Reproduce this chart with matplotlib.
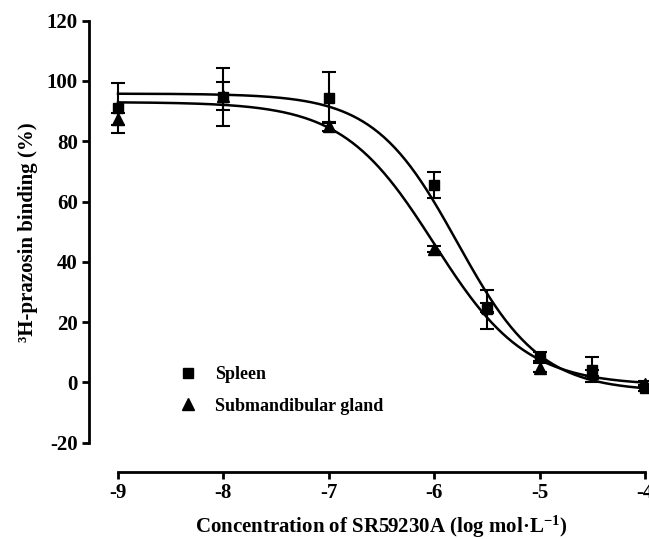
import numpy as np
import matplotlib
matplotlib.use('Agg')
import matplotlib.pyplot as plt
from matplotlib.lines import Line2D

matplotlib.rcParams['font.family'] = 'Liberation Serif'
matplotlib.rcParams['font.weight'] = 'bold'
matplotlib.rcParams['axes.unicode_minus'] = False
matplotlib.rcParams['mathtext.fontset'] = 'custom'
matplotlib.rcParams['mathtext.rm'] = 'Liberation Serif:bold'
matplotlib.rcParams['mathtext.bf'] = 'Liberation Serif:bold'
matplotlib.rcParams['mathtext.default'] = 'bf'

# log concentration (mol/L)
log_conc = [-9, -8, -7, -6, -5.5, -5, -4.5, -4]

# spleen (squares)
spleen = [91.0, 94.7, 94.4, 65.5, 24.2, 8.5, 4.2, -1.8]
spleen_err = [8.2, 9.5, 8.5, 4.3, 6.5, 1.5, 4.2, 1.0]

# submandibular gland (triangles)
subm = [87.5, 95.0, 85.0, 44.2, 25.0, 4.8, 3.0, -0.5]
subm_err = [2.0, 4.5, 1.5, 1.0, 1.5, 1.5, 1.0, 1.0]

# fitted sigmoid parameters (top, bottom, logIC50, hill)
spleen_fit = (95.8, -3.0, -5.78, 1.1)
subm_fit = (93.0, -1.0, -6.0, 1.0)


def sigmoid(x, top, bottom, logic50, hill):
    return bottom + (top - bottom) / (1 + 10 ** (hill * (x - logic50)))


fig = plt.figure(figsize=(6.49, 5.39), dpi=100, facecolor='w')
ax = fig.add_axes([118/649, 1-442.7/539, 527/649, 422/539])

xx = np.linspace(-9, -4, 300)
ax.plot(xx, sigmoid(xx, *spleen_fit), 'k', lw=1.8, clip_on=False)
ax.plot(xx, sigmoid(xx, *subm_fit), 'k', lw=1.8, clip_on=False)

ax.errorbar(log_conc, subm, yerr=subm_err, fmt='^', color='k', ms=8,
            capsize=5, elinewidth=1.5, capthick=1.5, clip_on=False)
ax.errorbar(log_conc, spleen, yerr=spleen_err, fmt='s', color='k', ms=7,
            capsize=5, elinewidth=1.5, capthick=1.5, clip_on=False)

ax.set_xlim(-9, -4)
ax.set_ylim(-20, 120)
ax.set_xticks(np.arange(-9, -3, 1))
ax.set_yticks(np.arange(-20, 121, 20))

for s in ['top', 'right']:
    ax.spines[s].set_visible(False)
ax.spines['left'].set_position(('outward', 21))
ax.spines['bottom'].set_position(('outward', 21))
ax.spines['left'].set_linewidth(2)
ax.spines['bottom'].set_linewidth(2)
ax.tick_params(width=2, length=5, labelsize=15, pad=3)

ax.set_xlabel('Concentration of SR59230A (log mol·L$^{-1}$)', fontsize=15,
              fontweight='bold', labelpad=8)
ax.set_ylabel('³H-prazosin binding (%)', fontsize=15, fontweight='bold',
              labelpad=6)

handles = [Line2D([], [], marker='s', color='k', ls='none', ms=7),
           Line2D([], [], marker='^', color='k', ls='none', ms=8)]
leg = ax.legend(handles, ['Spleen', 'Submandibular gland'], frameon=False,
                loc='upper left', bbox_to_anchor=(163/649, 1-359/539),
                bbox_transform=fig.transFigure, fontsize=13,
                handletextpad=0.5, labelspacing=0.8, borderaxespad=0)

fig.savefig('out.png', dpi=100)
